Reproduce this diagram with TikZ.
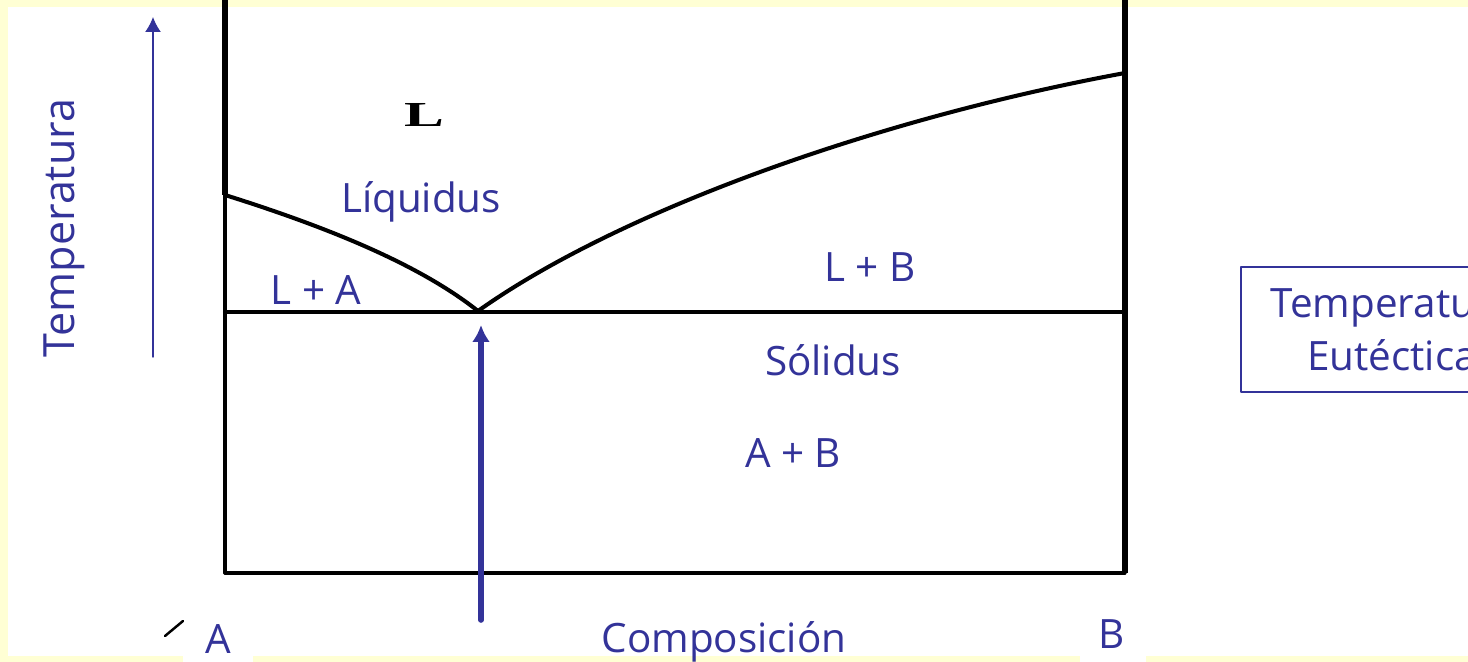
\documentclass[tikz,border=0pt]{standalone}
\usepackage{fontspec}
\setmainfont{Open Sans}
\newfontfamily\plotserif{Liberation Serif}
\usetikzlibrary{arrows.meta,positioning}
\definecolor{slideblue}{HTML}{333399}
\definecolor{slidecream}{HTML}{FFFFD4}
\tikzset{
every picture/.style={line cap=round,line join=round},
phase label/.style={text=slideblue, font=\fontsize{23}{27}\selectfont, inner sep=0pt, anchor=base},
axis line/.style={draw=black, line width=1.8pt},
phase line/.style={draw=black, line width=2.3pt},
temp arrow/.style={draw=slideblue, line width=0.8pt, -{Latex[length=0.3cm,width=0.32cm]}},
eut arrow/.style={draw=slideblue, line width=3.2pt, -{Latex[length=0.34cm,width=0.36cm]}},
eut box/.style={draw=slideblue, line width=0.9pt, text=slideblue, align=center,
  font=\fontsize{23}{30}\selectfont, minimum width=6.04cm, minimum height=2.5cm}
}
\begin{document}
\begin{tikzpicture}[x=0.02cm,y=-0.02cm]
\clip (0,0) rectangle (1468,662);
% slide background
\fill[slidecream] (0,0) rectangle (1468,662);
\fill[white] (8,7) rectangle (1468,656);
\fill[white] (183,650) rectangle (253,662);
\fill[white] (1080,650) rectangle (1146,662);

% key points of the diagram
\coordinate (meltA) at (225,195);
\coordinate (meltB) at (1125,73);
\coordinate (eut) at (478,311);
\coordinate (eutL) at (225,312);
\coordinate (eutR) at (1125,312);
\coordinate (axA) at (225,573);
\coordinate (axB) at (1125,573);

% axes
\draw[axis line] (225,0) -- (axA);
\draw[draw=black, line width=3.4pt, line cap=butt] (225,0) -- (meltA);
\draw[draw=black, line width=3.4pt, line cap=butt] (1125,0) -- (axB);
\draw[axis line] (axA) -- (axB);
\draw[draw=black, line width=1.4pt] (165,636) -- (183,621);

% liquidus and eutectic line
\draw[phase line] (meltA) .. controls (330,228) and (420,265) .. (eut);
\draw[phase line] (eut) .. controls (620,210) and (880,118) .. (meltB);
\draw[phase line] (eutL) -- (eutR);

% labels
\node[font=\plotserif\bfseries\fontsize{20}{22}\selectfont, inner sep=0pt, anchor=base] (liq) at (424,127) {\scalebox{1.7}[1]{L}};
\node[phase label] (liquidus) at (421,213) {Líquidus};
\node[phase label] (LA) at (316,305) {L + A};
\node[phase label] (LB) at (870,282) {L + B};
\node[phase label] (solidus) at (833,376) {Sólidus};
\node[phase label] (AB) at (793,467) {A + B};
\node[phase label] (labA) at (218,653) {A};
\node[phase label] (comp) at (724,652) {Composición};
\node[phase label] (labB) at (1112,648) {B};
\node[phase label, anchor=center, rotate=90, font=\fontsize{24.5}{28}\selectfont] (temp) at (64,228) {Temperatura};
\node[eut box] (eutbox) at (1392,329.5) {Temperatura\\Eutéctica};

% arrows
\coordinate (tempfoot) at (153,357);
\coordinate (temptip) at (153,17);
\draw[temp arrow] (tempfoot) -- (temptip);
\coordinate (eutfoot) at (481,620);
\coordinate (euttip) at (481,325);
\draw[eut arrow] (eutfoot) -- (euttip);
\end{tikzpicture}
\end{document}
